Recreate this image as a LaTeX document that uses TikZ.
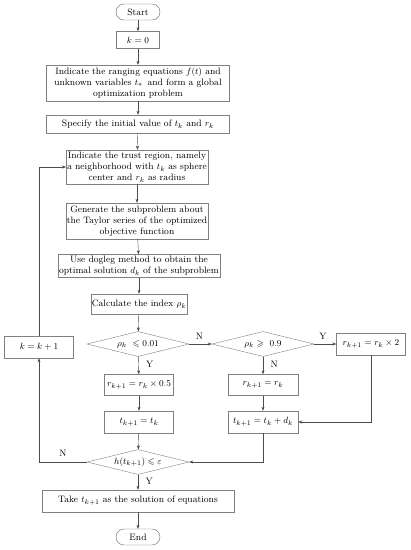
\documentclass[tikz,border=0pt]{standalone}
\usepackage{amssymb}
\usepackage{amsmath}
\usetikzlibrary{shapes.geometric,arrows.meta}

\begin{document}
\begin{tikzpicture}[x=1pt,y=-1pt,font=\fontsize{9.3}{11}\selectfont,
    box/.style={draw=black!50,align=center,inner sep=1pt},
    term/.style={draw=black!60,rounded corners=8pt,minimum width=44pt,minimum height=16pt,inner sep=1pt},
    cond/.style={draw=black!50,diamond,aspect=4,inner sep=0pt,minimum width=102pt,minimum height=25pt},
    flow/.style={draw=black!70,-{Stealth[length=4pt,width=3pt]}}]
    \useasboundingbox (0,0) rectangle (411,550);
    % main column
    \node[term] (start) at (138,12) {Start};
    \node[box,minimum width=43pt,minimum height=17pt] (kzero) at (138,40) {$k=0$};
    \node[box,minimum width=183pt,minimum height=36pt] (ranging) at (138,83) {Indicate the ranging equations $f(t)$ and\\ unknown variables $t_*$\, and form a global\\ optimization problem};
    \node[box,minimum width=183pt,minimum height=18pt] (init) at (138,124) {Specify the initial value of $t_k$ and $r_k$};
    \node[box,minimum width=137pt,minimum height=34pt] (trust) at (137,167) {Indicate the trust region, namely\\ a neighborhood with $t_k$ as sphere\\ center and $r_k$ as radius};
    \node[box,minimum width=137pt,minimum height=36pt] (subprob) at (137,221) {Generate the subproblem about\\ the Taylor series of the optimized\\ objective function};
    \node[box,minimum width=143pt,minimum height=23pt] (dogleg) at (139,266) {Use dogleg method to obtain the\\ optimal solution $d_k$ of the subproblem};
    \node[box,minimum width=86pt,minimum height=20pt] (index) at (139,304) {Calculate the index $\rho_k$};
    % decisions
    \node[cond] (small) at (138,344) {$\rho_k\ \leqslant 0.01$};
    \node[cond] (large) at (263,344) {$\rho_k\geqslant\ 0.9$};
    \node[box,minimum width=69pt,minimum height=22pt] (grow) at (371,344) {$r_{k+1}=r_k\times 2$};
    \node[box,minimum width=69pt,minimum height=22pt] (kinc) at (39,347) {$k=k+1$};
    \node[box,minimum width=69pt,minimum height=21pt] (shrink) at (139,385) {$r_{k+1}=r_k\times 0.5$};
    \node[box,minimum width=70pt,minimum height=21pt] (keep) at (263,385) {$r_{k+1}=r_k$};
    \node[box,minimum width=69pt,minimum height=22pt] (tstay) at (139,422) {$t_{k+1}=t_k$};
    \node[box,minimum width=70pt,minimum height=22pt] (tmove) at (263,422) {$t_{k+1}=t_k+d_k$};
    \node[cond] (stop) at (138,462) {$h(t_{k+1})\leqslant\varepsilon$};
    \node[box,minimum width=192pt,minimum height=22pt] (take) at (138,501) {Take $t_{k+1}$ as the solution of equations};
    \node[term] (end) at (138,537) {End};
    % connectors
    \draw[flow] (start) -- (kzero);
    \draw[flow] (kzero) -- (ranging);
    \draw[flow] (ranging) -- (init);
    \draw[flow] (init) -- (trust);
    \draw[flow] (trust) -- (subprob);
    \draw[flow] (subprob) -- (dogleg);
    \draw[flow] (dogleg) -- (index);
    \draw[flow] (index) -- (small);
    \draw[flow] (small) -- node[above=1pt,pos=0.45] {N} (large);
    \draw[flow] (large) -- node[above=1pt,pos=0.4] {Y} (grow);
    \draw[flow] (small) -- node[right=4pt,pos=0.45] {Y} (shrink);
    \draw[flow] (large) -- node[right=4pt,pos=0.45] {N} (keep);
    \draw[flow] (shrink) -- (tstay);
    \draw[flow] (keep) -- (tmove);
    \draw[flow] (grow) |- (tmove);
    \draw[flow] (tstay) -- (stop);
    \draw[flow] (tmove) |- (stop);
    \draw[flow] (stop) -- node[right=4pt,pos=0.45] {Y} (take);
    \draw[flow] (take) -- (end);
    \draw[flow] (stop.west) -| node[above=2pt,pos=0.25] {N} (kinc);
    \draw[flow] (kinc) |- (trust);
\end{tikzpicture}
\end{document}
